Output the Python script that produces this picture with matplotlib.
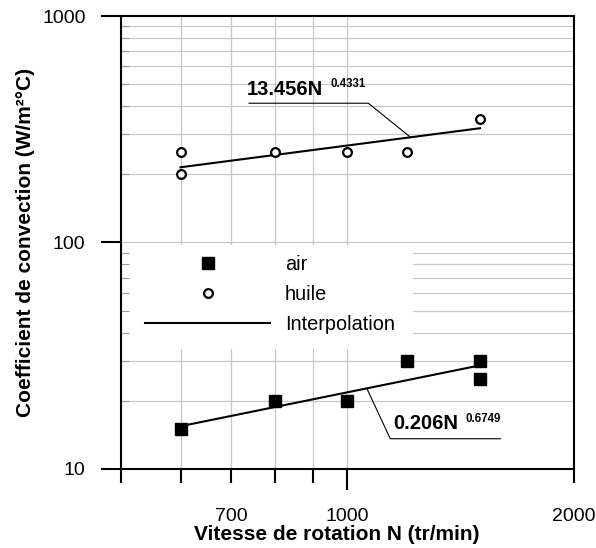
"""
Coefficient de convection vs vitesse de rotation (air / huile), log-log.
"""
import numpy as np
import matplotlib
matplotlib.use("Agg")
import matplotlib.pyplot as plt
from matplotlib.ticker import FixedLocator, FuncFormatter, NullFormatter
from matplotlib.patches import Rectangle

plt.rcParams["font.family"] = ["Liberation Sans", "DejaVu Sans"]

# Mesures
N_air = [600, 800, 1000, 1200, 1500, 1500]
h_air = [15, 20, 20, 30, 30, 25]
N_huile = [600, 600, 800, 1000, 1200, 1500]
h_huile = [250, 200, 250, 250, 250, 350]

# Interpolations h = a * N^b
a_huile, b_huile = 13.456, 0.4331
a_air, b_air = 0.206, 0.6749
N_fit_range = [600, 1500]

x_ticks_major = [1000]
x_ticks_minor = [500, 600, 700, 800, 900, 2000]
x_labeled_minor = [700, 2000]
y_ticks_major = [10, 100, 1000]
y_grid = [20, 30, 40, 50, 60, 70, 80, 90, 100, 200, 300, 400, 500, 600, 700, 800, 900]
x_grid = [600, 700, 800, 900, 1000]


def power_fit(N, a, b):
    return a * np.asarray(N, dtype=float) ** b


fig = plt.figure(figsize=(5.96, 5.48), dpi=100)
ax = fig.add_axes([0.203, 0.1442, 0.760, 0.8266])
ax.set_xscale("log")
ax.set_yscale("log")
ax.set_xlim(500, 2000)
ax.set_ylim(10, 1000)

grid_col = "#c8c8c8"
for v in y_grid:
    ax.axhline(v, color=grid_col, lw=0.9, zorder=1)
for v in x_grid:
    ax.axvline(v, color=grid_col, lw=0.9, zorder=1)

# white area behind the legend
ax.add_patch(Rectangle((0, 0.265), 0.6446, 0.229, transform=ax.transAxes,
                       fc="white", ec="none", zorder=1.5))

N_fit = np.geomspace(*N_fit_range, 50)
ax.plot(N_fit, power_fit(N_fit, a_air, b_air), color="black", lw=1.5, zorder=3)
ax.plot(N_fit, power_fit(N_fit, a_huile, b_huile), color="black", lw=1.5, zorder=3,
        label="Interpolation")
ax.plot(N_air, h_air, ls="none", marker="s", ms=8.5, color="black", zorder=4, label="air")
ax.plot(N_huile, h_huile, ls="none", marker="o", ms=6.3, mfc="white", mec="black",
        mew=1.6, zorder=4, label="huile")

handles, labels = ax.get_legend_handles_labels()
order = [1, 2, 0]
leg = ax.legend([handles[i] for i in order], [labels[i] for i in order],
                loc="upper left", bbox_to_anchor=(0.053, 0.472), frameon=False,
                borderpad=0, borderaxespad=0, handlelength=6.3, handletextpad=0.75,
                labelspacing=0.55, fontsize=14.3)
leg.set_zorder(1.6)

# annotation huile
ax.text(735, 448, "13.456N", fontsize=14.5, fontweight="bold", ha="left", va="baseline")
ax.text(950, 500, "0.4331", fontsize=8.3, fontweight="bold", ha="left", va="center")
ax.plot([740, 1066, 1213], [412, 412, power_fit(1213, a_huile, b_huile)],
        color="black", lw=0.8, zorder=3)

# annotation air
ax.text(1149, 15.0, "0.206N", fontsize=14.5, fontweight="bold", ha="left", va="baseline")
ax.text(1437, 16.6, "0.6749", fontsize=8.3, fontweight="bold", ha="left", va="center")
ax.plot([1597, 1140, 1061], [13.6, 13.6, power_fit(1061, a_air, b_air)],
        color="black", lw=0.8, zorder=3)

# axes / ticks
ax.xaxis.set_major_locator(FixedLocator(x_ticks_major))
ax.xaxis.set_minor_locator(FixedLocator(x_ticks_minor))
ax.xaxis.set_major_formatter(FuncFormatter(lambda v, p: f"{v:.0f}"))
ax.xaxis.set_minor_formatter(FuncFormatter(
    lambda v, p: f"{v:.0f}" if round(v) in x_labeled_minor else ""))
ax.yaxis.set_major_locator(FixedLocator(y_ticks_major))
ax.yaxis.set_major_formatter(FuncFormatter(lambda v, p: f"{v:.0f}"))
ax.yaxis.set_minor_locator(FixedLocator([v for v in y_grid if v != 100]))
ax.yaxis.set_minor_formatter(NullFormatter())

ax.tick_params(axis="x", which="major", direction="out", length=15, width=1.5,
               pad=13, labelsize=14)
ax.tick_params(axis="x", which="minor", direction="out", length=10, width=1.5,
               pad=18, labelsize=14)
ax.tick_params(axis="y", which="major", direction="out", length=14.5, width=1.5,
               pad=11, labelsize=14)
ax.tick_params(axis="y", which="minor", direction="in", length=6, width=0.8,
               color="#999999")

for s in ax.spines.values():
    s.set_linewidth(1.5)
    s.set_zorder(5)

ax.set_xlabel("Vitesse de rotation N (tr/min)", fontsize=15, fontweight="bold")
ax.xaxis.set_label_coords(0.477, -0.124)
ax.set_ylabel("Coefficient de convection (W/m²°C)", fontsize=15, fontweight="bold")
ax.yaxis.set_label_coords(-0.19, 0.5)

fig.savefig("out.png", dpi=100)
